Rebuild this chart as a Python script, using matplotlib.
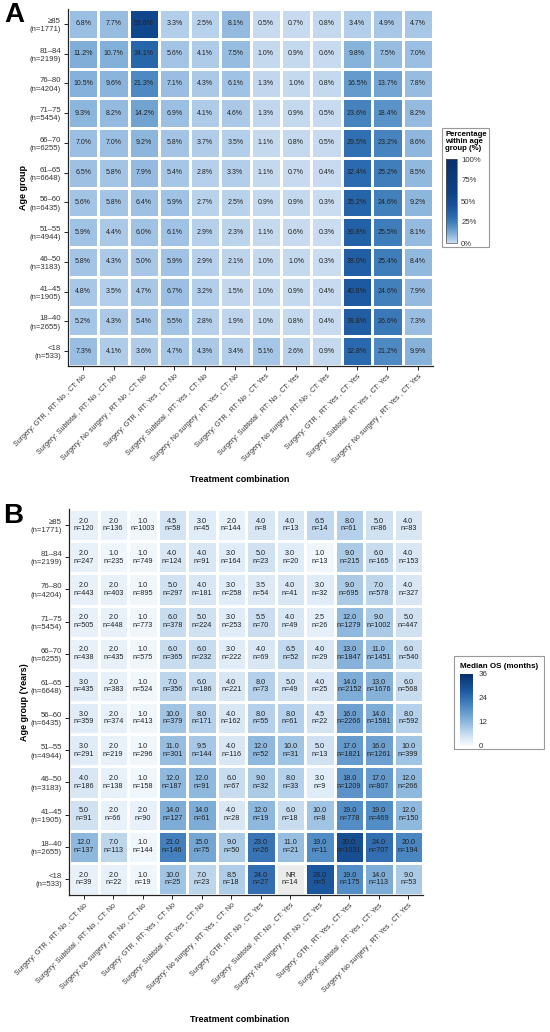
import numpy as np
import matplotlib
matplotlib.use("Agg")
import matplotlib.pyplot as plt
from matplotlib.colors import LinearSegmentedColormap, Normalize
from matplotlib.patches import Rectangle

plt.rcParams['font.family'] = ['Liberation Sans', 'DejaVu Sans']

# ---------------- data ----------------
age_groups = ["≥85", "81–84", "76–80", "71–75", "66–70", "61–65",
              "56–60", "51–55", "46–50", "41–45", "18–40", "<18"]
age_n = [1771, 2199, 4204, 5454, 6255, 6648, 6435, 4944, 3183, 1905, 2655, 533]

treatments = [
    "Surgery: GTR , RT: No , CT: No",
    "Surgery: Subtotal , RT: No , CT: No",
    "Surgery: No surgery , RT: No , CT: No",
    "Surgery: GTR , RT: Yes , CT: No",
    "Surgery: Subtotal , RT: Yes , CT: No",
    "Surgery: No surgery , RT: Yes , CT: No",
    "Surgery: GTR , RT: No , CT: Yes",
    "Surgery: Subtotal , RT: No , CT: Yes",
    "Surgery: No surgery , RT: No , CT: Yes",
    "Surgery: GTR , RT: Yes , CT: Yes",
    "Surgery: Subtotal , RT: Yes , CT: Yes",
    "Surgery: No surgery , RT: Yes , CT: Yes",
]

pct = [
    [6.8, 7.7, 56.6, 3.3, 2.5, 8.1, 0.5, 0.7, 0.8, 3.4, 4.9, 4.7],
    [11.2, 10.7, 34.1, 5.6, 4.1, 7.5, 1.0, 0.9, 0.6, 9.8, 7.5, 7.0],
    [10.5, 9.6, 21.3, 7.1, 4.3, 6.1, 1.3, 1.0, 0.8, 16.5, 13.7, 7.8],
    [9.3, 8.2, 14.2, 6.9, 4.1, 4.6, 1.3, 0.9, 0.5, 23.6, 18.4, 8.2],
    [7.0, 7.0, 9.2, 5.8, 3.7, 3.5, 1.1, 0.8, 0.5, 29.5, 23.2, 8.6],
    [6.5, 5.8, 7.9, 5.4, 2.8, 3.3, 1.1, 0.7, 0.4, 32.4, 25.2, 8.5],
    [5.6, 5.8, 6.4, 5.9, 2.7, 2.5, 0.9, 0.9, 0.3, 35.2, 24.6, 9.2],
    [5.9, 4.4, 6.0, 6.1, 2.9, 2.3, 1.1, 0.6, 0.3, 36.8, 25.5, 8.1],
    [5.8, 4.3, 5.0, 5.9, 2.9, 2.1, 1.0, 1.0, 0.3, 38.0, 25.4, 8.4],
    [4.8, 3.5, 4.7, 6.7, 3.2, 1.5, 1.0, 0.9, 0.4, 40.8, 24.6, 7.9],
    [5.2, 4.3, 5.4, 5.5, 2.8, 1.9, 1.0, 0.8, 0.4, 38.8, 26.6, 7.3],
    [7.3, 4.1, 3.6, 4.7, 4.3, 3.4, 5.1, 2.6, 0.9, 32.8, 21.2, 9.9],
]

median_os = [
    [2.0, 2.0, 1.0, 4.5, 3.0, 2.0, 4.0, 4.0, 6.5, 8.0, 5.0, 4.0],
    [2.0, 1.0, 1.0, 4.0, 4.0, 3.0, 5.0, 3.0, 1.0, 9.0, 6.0, 4.0],
    [2.0, 2.0, 1.0, 5.0, 4.0, 3.0, 3.5, 4.0, 3.0, 9.0, 7.0, 4.0],
    [2.0, 2.0, 1.0, 6.0, 5.0, 3.0, 5.5, 4.0, 2.5, 12.0, 9.0, 5.0],
    [2.0, 2.0, 1.0, 6.0, 6.0, 3.0, 4.0, 6.5, 4.0, 13.0, 11.0, 6.0],
    [3.0, 2.0, 1.0, 7.0, 6.0, 4.0, 8.0, 5.0, 4.0, 14.0, 13.0, 6.0],
    [3.0, 2.0, 1.0, 10.0, 8.0, 4.0, 8.0, 8.0, 4.5, 16.0, 14.0, 8.0],
    [3.0, 2.0, 1.0, 11.0, 9.5, 4.0, 12.0, 10.0, 5.0, 17.0, 16.0, 10.0],
    [4.0, 2.0, 1.0, 12.0, 12.0, 6.0, 9.0, 8.0, 3.0, 18.0, 17.0, 12.0],
    [5.0, 2.0, 2.0, 14.0, 14.0, 4.0, 12.0, 6.0, 10.0, 19.0, 19.0, 12.0],
    [12.0, 7.0, 1.0, 21.0, 15.0, 9.0, 23.0, 11.0, 19.0, 30.0, 24.0, 20.0],
    [2.0, 2.0, 1.0, 10.0, 7.0, 8.5, 24.0, None, 28.0, 19.0, 14.0, 9.0],
]

n_patients = [
    [120, 136, 1003, 58, 45, 144, 8, 13, 14, 61, 86, 83],
    [247, 235, 749, 124, 91, 164, 23, 20, 13, 215, 165, 153],
    [443, 403, 895, 297, 181, 258, 54, 41, 32, 695, 578, 327],
    [505, 448, 773, 378, 224, 253, 70, 49, 26, 1279, 1002, 447],
    [438, 435, 575, 365, 232, 222, 69, 52, 29, 1847, 1451, 540],
    [435, 383, 524, 356, 186, 221, 73, 49, 25, 2152, 1676, 568],
    [359, 374, 413, 379, 171, 162, 55, 61, 22, 2266, 1581, 592],
    [291, 219, 296, 301, 144, 116, 52, 31, 13, 1821, 1261, 399],
    [186, 138, 158, 187, 91, 67, 32, 33, 9, 1209, 807, 266],
    [91, 66, 90, 127, 61, 28, 19, 18, 8, 778, 469, 150],
    [137, 113, 144, 146, 75, 50, 26, 21, 11, 1031, 707, 194],
    [39, 22, 19, 25, 23, 18, 27, 14, 5, 175, 113, 53],
]

pct_ticks = [0, 25, 50, 75, 100]
os_ticks = [0, 12, 24, 36]

# ---------------- styling ----------------
W, H = 550, 1032
fig = plt.figure(figsize=(W / 100, H / 100), dpi=100)

def fx(px):
    return px / W

def fy(py):
    return 1 - py / H

cmapA = LinearSegmentedColormap.from_list("A", [
    (0.0, '#cadcf0'), (0.05, '#a6c6e6'), (0.1, '#86b2da'), (0.2, '#528dc5'),
    (0.3, '#2e6eb1'), (0.45, '#17519a'), (0.6, '#0e4286'), (1.0, '#08306b')])
cmapB = LinearSegmentedColormap.from_list("B", [
    (0.0, '#f7fbff'), (0.12, '#d6e5f4'), (0.33, '#8fb9de'), (0.55, '#4c88c2'),
    (0.75, '#1f5ca4'), (1.0, '#08306b')])
cmapB.set_bad('#ebebeb')

text_col = '#333333'
ylabels = [f"{a}\n(n={n})" for a, n in zip(age_groups, age_n)]


def style_axes(ax):
    nr, nc = len(age_groups), len(treatments)
    ax.set_xlim(0, nc)
    ax.set_ylim(nr, 0)
    ax.set_xticks(np.arange(nc) + 0.5)
    ax.set_xticklabels(treatments, rotation=45, ha='right', rotation_mode='anchor',
                       fontsize=5, color=text_col)
    ax.set_yticks(np.arange(nr) + 0.5)
    ax.set_yticklabels(ylabels, fontsize=5.6, color=text_col, linespacing=1.25)
    for s in ['top', 'right']:
        ax.spines[s].set_visible(False)
    for s in ['left', 'bottom']:
        ax.spines[s].set_linewidth(0.9)
        ax.spines[s].set_color('#222222')
    ax.tick_params(length=3, width=0.7, color='#222222', pad=2)


# ---------------- Panel A ----------------
axA = fig.add_axes([fx(68), fy(366), fx(433) - fx(68), fy(9) - fy(366)])
P = np.array(pct, dtype=float)
meshA = axA.pcolormesh(np.arange(P.shape[1] + 1), np.arange(P.shape[0] + 1), P,
                       cmap=cmapA, norm=Normalize(0, 100),
                       edgecolors='white', linewidth=0.8)
for i in range(P.shape[0]):
    for j in range(P.shape[1]):
        axA.text(j + 0.5, i + 0.5, f"{P[i, j]:.1f}%", ha='center', va='center',
                 fontsize=5, color='#222222')
style_axes(axA)

fig.text(fx(23), fy(187), "Age group", rotation=90, ha='center', va='center',
         fontsize=6.5, fontweight='bold')
fig.text(fx(240), fy(480), "Treatment combination", ha='center', va='center',
         fontsize=6.5, fontweight='bold')
fig.text(fx(14), fy(15), "A", ha='center', va='center', fontsize=20, fontweight='bold')

# legend A
fig.patches.append(Rectangle((fx(442), fy(247)), fx(489) - fx(442), fy(128) - fy(247),
                             transform=fig.transFigure, fill=False,
                             edgecolor='#999999', linewidth=0.8))
fig.text(fx(445), fy(131), "Percentage\nwithin age\ngroup (%)", ha='left', va='top',
         fontsize=5.6, fontweight='bold', linespacing=1.0)
caxA = fig.add_axes([fx(446), fy(243), fx(457) - fx(446), fy(159) - fy(243)])
cbA = fig.colorbar(meshA, cax=caxA, ticks=pct_ticks)
cbA.set_ticklabels([f"{t}%" for t in pct_ticks])
cbA.outline.set_linewidth(0.5)
cbA.outline.set_edgecolor('#555555')
caxA.tick_params(labelsize=5.6, length=2, width=0.5, color='white', pad=1,
                 labelcolor=text_col)

# ---------------- Panel B ----------------
axB = fig.add_axes([fx(69), fy(895), fx(423) - fx(69), fy(509) - fy(895)])
M = np.array([[np.nan if v is None else v for v in row] for row in median_os], dtype=float)
Np = np.array(n_patients)
meshB = axB.pcolormesh(np.arange(M.shape[1] + 1), np.arange(M.shape[0] + 1),
                       np.ma.masked_invalid(M), cmap=cmapB, norm=Normalize(0, 36),
                       edgecolors='white', linewidth=0.8)
for i in range(M.shape[0]):
    for j in range(M.shape[1]):
        val = "NR" if np.isnan(M[i, j]) else f"{M[i, j]:.1f}"
        axB.text(j + 0.5, i + 0.5, f"{val}\nn={Np[i, j]}", ha='center', va='center',
                 fontsize=5.2, color='#222222', linespacing=1.15)
style_axes(axB)

fig.text(fx(25), fy(702), "Age group (Years)", rotation=90, ha='center', va='center',
         fontsize=6.5, fontweight='bold')
fig.text(fx(240), fy(1020), "Treatment combination", ha='center', va='center',
         fontsize=6.5, fontweight='bold')
fig.text(fx(13), fy(516), "B", ha='center', va='center', fontsize=20, fontweight='bold')

# legend B
fig.patches.append(Rectangle((fx(454), fy(749)), fx(544) - fx(454), fy(656) - fy(749),
                             transform=fig.transFigure, fill=False,
                             edgecolor='#999999', linewidth=0.8))
fig.text(fx(460), fy(666), "Median OS (months)", ha='left', va='center',
         fontsize=5.8, fontweight='bold')
caxB = fig.add_axes([fx(460), fy(746), fx(473) - fx(460), fy(674) - fy(746)])
cbB = fig.colorbar(meshB, cax=caxB, ticks=os_ticks)
cbB.set_ticklabels([str(t) for t in os_ticks])
cbB.outline.set_visible(False)
caxB.tick_params(labelsize=5.8, length=2, width=0.5, color='white', pad=2,
                 labelcolor=text_col)

fig.savefig("out.png", dpi=100)
